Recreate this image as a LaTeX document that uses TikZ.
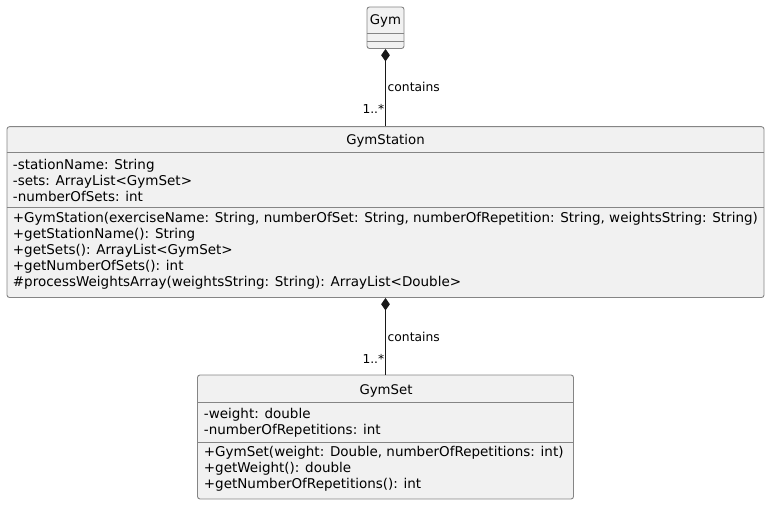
\documentclass[tikz,border=0pt]{standalone}
\usepackage{fontspec}
\setmainfont{DejaVu Sans}
\usetikzlibrary{arrows.meta}
\definecolor{boxfill}{HTML}{F1F1F1}
\definecolor{edge}{HTML}{181818}
\definecolor{boxline}{HTML}{858585}
\begin{document}
\begin{tikzpicture}[x=1pt,y=-1pt,
  classbox/.style={draw=boxline, line width=0.9pt, fill=boxfill, rounded corners=2.5pt, rectangle, inner sep=0pt},
  member/.style={anchor=base west, inner sep=0pt, font=\fontsize{13.5}{16}\selectfont},
  ctitle/.style={anchor=base, inner sep=0pt, font=\fontsize{13.3}{16}\selectfont},
  divider/.style={draw=boxline, line width=0.9pt},
  lbl/.style={inner sep=0pt, font=\fontsize{12.3}{14}\selectfont},
  compose/.style={draw=edge, line width=1pt, -{Diamond[length=12.5pt,width=8.7pt]}}]
\useasboundingbox (0,0) rectangle (770,505);
% Gym
\node[classbox, minimum width=37pt, minimum height=41.5pt] (gym) at (385.5,27.75) {};
\node[ctitle] (gymt) at (385.5,25) {Gym};
\draw[divider] (gym.west |- 0,33) -- (gym.east |- 0,33);
\draw[divider] (gym.west |- 0,41) -- (gym.east |- 0,41);
% GymStation
\node[classbox, minimum width=757pt, minimum height=170.8pt] (station) at (385.5,212.1) {};
\node[ctitle] (stt) at (385.5,144.3) {GymStation};
\draw[divider] (station.west |- 0,152.3) -- (station.east |- 0,152.3);
\draw[divider] (station.west |- 0,207.7) -- (station.east |- 0,207.7);
\node[member] (sa1) at (12.7,169.3) {-stationName: String};
\node[member] (sa2) at (12.7,185.5) {-sets: ArrayList<GymSet>};
\node[member] (sa3) at (12.7,201.7) {-numberOfSets: int};
\node[member] (sm1) at (12.7,222.7) {+GymStation(exerciseName: String, numberOfSet: String, numberOfRepetition: String, weightsString: String)};
\node[member] (sm2) at (12.7,238.7) {+getStationName(): String};
\node[member] (sm3) at (12.7,254.7) {+getSets(): ArrayList<GymSet>};
\node[member] (sm4) at (12.7,270.7) {+getNumberOfSets(): int};
\node[member] (sm5) at (12.7,286.7) {\#processWeightsArray(weightsString: String): ArrayList<Double>};
% GymSet
\node[classbox, minimum width=376pt, minimum height=124pt] (gset) at (385.5,437) {};
\node[ctitle] (gst) at (386,394.3) {GymSet};
\draw[divider] (gset.west |- 0,402.8) -- (gset.east |- 0,402.8);
\draw[divider] (gset.west |- 0,442.3) -- (gset.east |- 0,442.3);
\node[member] (ga1) at (203.7,418.7) {-weight: double};
\node[member] (ga2) at (203.7,434.7) {-numberOfRepetitions: int};
\node[member] (gm1) at (203.7,456.3) {+GymSet(weight: Double, numberOfRepetitions: int)};
\node[member] (gm2) at (203.7,472.3) {+getWeight(): double};
\node[member] (gm3) at (203.7,488.3) {+getNumberOfRepetitions(): int};
% connectors
\draw[compose] (station.north) -- (gym.south);
\node[lbl, anchor=base west] (c1) at (387.5,91.7) {contains};
\node[lbl, anchor=base east] (m1) at (384.5,113.3) {1..*};
\draw[compose] (gset.north) -- (station.south);
\node[lbl, anchor=base west] (c2) at (387.5,341.7) {contains};
\node[lbl, anchor=base east] (m2) at (384.5,363.3) {1..*};
\end{tikzpicture}
\end{document}
